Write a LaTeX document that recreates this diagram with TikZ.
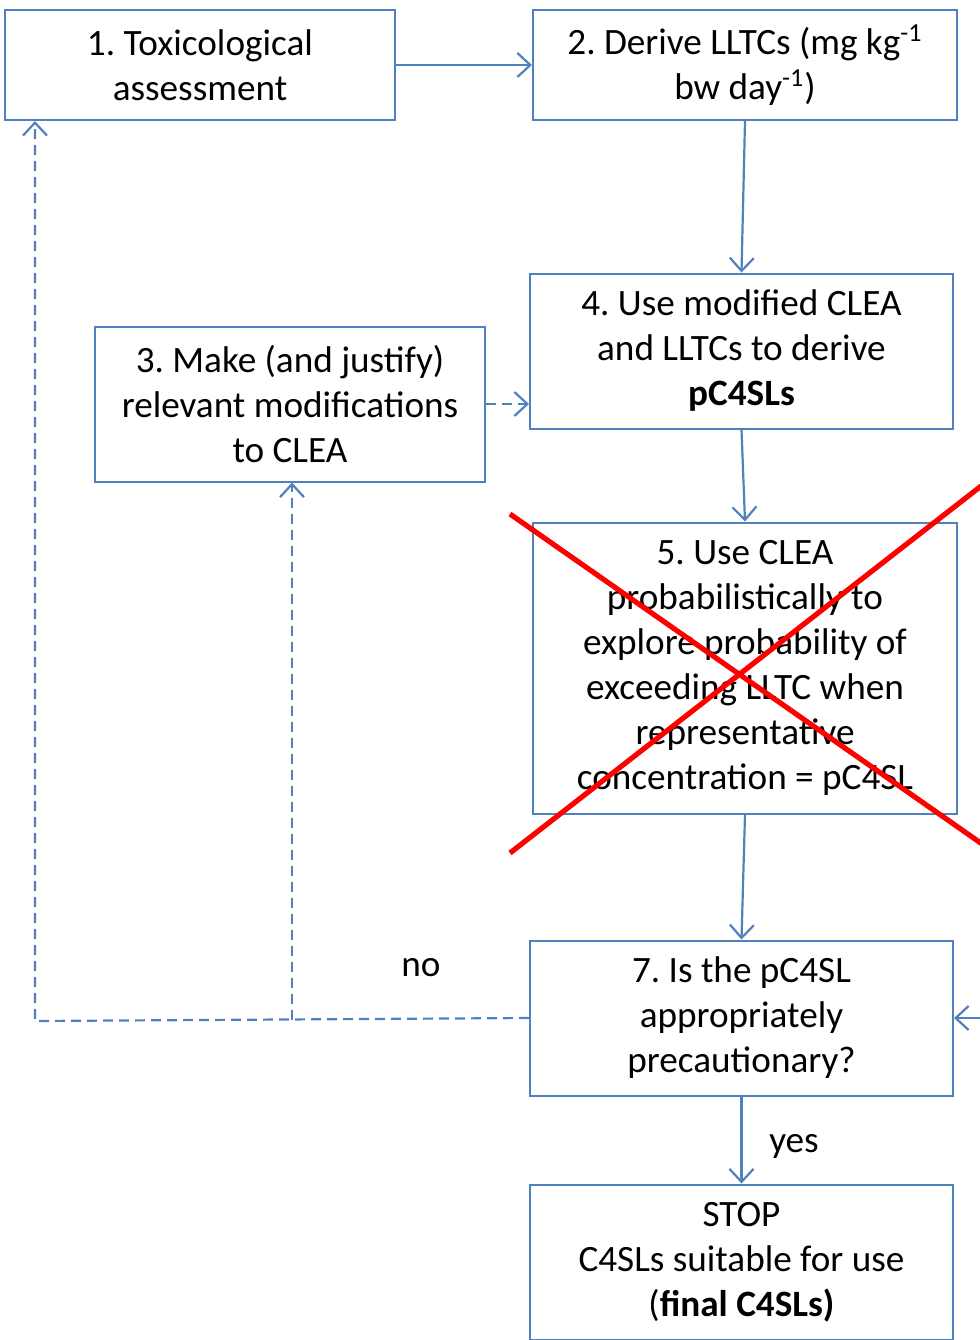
\documentclass[tikz,border=0pt]{standalone}
\usepackage{fontspec}
\setmainfont{Carlito}
\usetikzlibrary{positioning, arrows.meta}
\definecolor{flowblue}{HTML}{4F81BD}

\begin{document}
\frenchspacing
\begin{tikzpicture}[
    x=0.5pt, y=-0.5pt,
    >={Straight Barb[length=6.5pt, width=12pt]},
    font=\fontsize{18.6}{22.5}\selectfont,
    box/.style={draw=flowblue, line width=1pt, align=center, inner sep=2pt,
                minimum height=77.5pt},
    link/.style={flowblue, line width=1.1pt, ->},
    back link/.style={link, dash pattern=on 5pt off 3pt},
    cross/.style={red, line width=2.6pt},
]

\useasboundingbox (0,0) rectangle (980,1340);

% Top row
\node[box, minimum width=195pt, minimum height=55pt] (B1) at (200,65)
    {1. Toxicological\\assessment};
\node[box, minimum width=212pt, minimum height=55pt] (B2) at (745,65)
    {2. Derive LLTCs (mg kg\textsuperscript{-1}\\bw day\textsuperscript{-1})};

% Middle
\node[box, minimum width=211.5pt] (B4) at (741.5,351)
    {4. Use modified CLEA\\and LLTCs to derive\\\textbf{pC4SLs}};
\node[box, minimum width=195pt] (B3) at (290,404)
    {3. Make (and justify)\\relevant modifications\\to CLEA};
\node[box, minimum width=212pt, minimum height=145.5pt] (B5) at (745,668)
    {5. Use CLEA\\probabilistically to\\explore probability of\\exceeding LLTC when\\representative\\concentration = pC4SL};

% Decision and stop
\node[box, minimum width=211.5pt] (B7) at (741.5,1018)
    {7. Is the pC4SL\\appropriately\\precautionary?};
\node[box, minimum width=211.5pt] (Stop) at (741.5,1262)
    {STOP\\C4SLs suitable for use\\(\textbf{final C4SLs)}};

% Forward arrows
\draw[link] (B1.east) -- (B2.west);
\draw[link] (B2.south) -- (B4.north);
\draw[link] (B4.south) -- (B5.north);
\draw[link] (B5.south) -- (B7.north);
\draw[link] (B7.south) -- node[right=10pt, pos=0.58, text=black] (yes) {yes} (Stop.north);
\draw[back link] (B3.east) -- (B3.east -| B4.west);

% Incoming from the right
\coordinate (off right) at (995,1018);
\draw[link] (off right) -- (B7.east);

% "no" loop back to steps 1 and 3
\coordinate (no corner) at (35,1021);
\coordinate (no split) at (292,1020);
\draw[back link] (B7.west) -- (no corner) -- (no corner |- B1.south);
\draw[back link] (no split) -- (no split |- B3.south);
\node (no) at (421,968) {no};

% Step 5 struck out
\draw[cross] (510,514) -- (985,846);
\draw[cross] (510,853) -- (985,483);

\end{tikzpicture}
\end{document}
